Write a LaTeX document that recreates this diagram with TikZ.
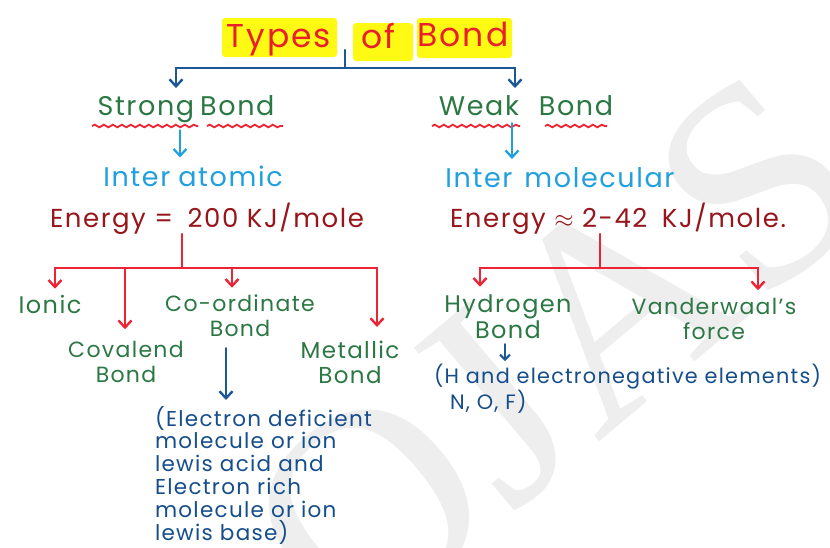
\documentclass[tikz,border=0pt]{standalone}
\usepackage{fontspec}
\setmainfont{Poppins}[LetterSpace=6]
\newfontfamily\markfont{Liberation Serif}
\usetikzlibrary{arrows.meta,decorations.pathmorphing}

\definecolor{titlered}{RGB}{232,32,44}
\definecolor{hlyellow}{RGB}{255,250,20}
\definecolor{hgreen}{RGB}{44,120,68}
\definecolor{cyanblue}{RGB}{32,160,222}
\definecolor{darkred}{RGB}{150,22,28}
\definecolor{linered}{RGB}{236,36,52}
\definecolor{inkblue}{RGB}{28,88,150}
\definecolor{noteblue}{RGB}{22,78,140}
\definecolor{markgray}{RGB}{238,238,238}

\tikzset{
  txt/.style={inner sep=0pt, outer sep=0pt},
  titletext/.style={txt, text=titlered, font=\fontsize{33}{36}\selectfont},
  headtext/.style={txt, text=hgreen, font=\fontsize{27}{30}\selectfont},
  kindtext/.style={txt, text=cyanblue, font=\fontsize{27}{30}\selectfont},
  energytext/.style={txt, text=darkred, font=\fontsize{26}{30}\selectfont},
  itemtext/.style={txt, text=hgreen, font=\fontsize{22}{24.5}\selectfont, align=center},
  notetext/.style={txt, text=noteblue, font=\fontsize{21.5}{22.8}\selectfont, align=left},
  barb/.style={-{Straight Barb[length=7pt,width=13pt]}},
  smallbarb/.style={-{Straight Barb[length=5pt,width=10pt]}},
  bluelink/.style={draw=inkblue, line width=2.4pt, line cap=round},
  redlink/.style={draw=linered, line width=2.4pt, line cap=round},
  cyanlink/.style={draw=cyanblue, line width=2.2pt, line cap=round},
  wavy/.style={draw=linered, line width=1.8pt, decorate,
    decoration={snake, segment length=9pt, amplitude=1.3pt}},
  highlight/.style={fill=hlyellow, rounded corners=3pt},
}

\begin{document}
\begin{tikzpicture}[x=1pt, y=-1pt]
\useasboundingbox (0,0) rectangle (830,547);
\fill[white] (0,0) rectangle (830,547);

% faint background lettering
\node[txt, text=markgray, rotate=40, font=\markfont\fontsize{290}{290}\selectfont]
  (mark) at (555,355) {OJAS};

% title with marker highlight
\fill[highlight] (222,18) rectangle (337,57);
\fill[highlight] (353,23) rectangle (413,61);
\fill[highlight] (417,18) rectangle (512,58);
\node[titletext, anchor=base] (types) at (279,47) {Types};
\node[titletext, anchor=base] (of)    at (378,48) {of};
\node[titletext, anchor=base] (bond)  at (463,46) {Bond};
\coordinate (tj) at (345,50);
\coordinate (tk) at (345,68);

% strong / weak
\node[headtext, anchor=base] (strong) at (186,115) {Strong\hspace{6pt}Bond};
\node[headtext, anchor=base] (weak)   at (526,115) {Weak\hspace{20pt}Bond};
\draw[wavy] (92,126) -- (198,126);
\draw[wavy] (207,126) -- (283,126);
\draw[wavy] (432,126) -- (520,126);
\draw[wavy] (545,126) -- (607,126);

\draw[bluelink] (tj) -- (tk);
\draw[bluelink, barb, shorten >=7pt] (tk) -| ([xshift=-10pt]strong.north);
\draw[bluelink, barb, shorten >=7pt] (tk) -| ([xshift=-11pt]weak.north);

% inter atomic / inter molecular
\node[kindtext, anchor=base] (interA) at (193,186) {Inter\hspace{8pt}atomic};
\node[kindtext, anchor=base] (interM) at (560,187) {Inter\hspace{12pt}molecular};
\draw[cyanlink, barb, shorten <=8pt, shorten >=8pt]
  ([xshift=-6pt]strong.south) -- ([xshift=-6pt]strong.south |- interA.north);
\draw[cyanlink, barb, shorten <=8pt, shorten >=8pt]
  ([xshift=-14pt]weak.south) -- ([xshift=-14pt]weak.south |- interM.north);

% energies
\node[energytext, anchor=base] (energyA) at (207,227) {Energy = \hspace{6pt}200 KJ/mole};
\node[energytext, anchor=base] (energyM) at (618,227) {Energy $\approx$ 2-42 \hspace{6pt}KJ/mole.};

% strong bond kinds (base anchor sits on the last line)
\coordinate (ja) at (182,268);
\node[itemtext, anchor=base, font=\fontsize{24}{26}\selectfont] (ionic) at (50,313) {Ionic};
\node[itemtext, anchor=base] (covalent) at (126,382) {Covalend\\Bond};
\node[itemtext, anchor=base] (coord)    at (240,336) {Co-ordinate\\Bond};
\node[itemtext, anchor=base, font=\fontsize{23}{24.5}\selectfont] (metallic) at (350,383) {Metallic\\Bond};
\draw[redlink] (energyA.south -| ja) -- (ja);
\draw[redlink, barb, shorten >=6pt] (ja) -| ([xshift=5pt]ionic.north);
\draw[redlink, barb, shorten >=12pt] (ja) -| ([xshift=-1pt]covalent.north);
\draw[redlink, barb, shorten >=7pt] (ja) -| ([xshift=-8pt]coord.north);
\draw[redlink, barb, shorten >=14pt] (ja) -| ([xshift=27pt]metallic.north);

% co-ordinate bond note
\node[notetext, anchor=north west] (lewis) at (155,406)
  {(Electron deficient\\molecule or ion\\lewis acid and\\Electron rich\\molecule or ion\\lewis base)};
\draw[bluelink, barb, shorten <=12pt, shorten >=6pt]
  ([xshift=-14pt]coord.south) -- ([xshift=-14pt]coord.south |- lewis.north);

% weak bond kinds
\coordinate (jm) at (600,268);
\node[itemtext, anchor=base, font=\fontsize{24}{25.5}\selectfont] (hydrogen) at (508,338) {Hydrogen\\Bond};
\node[itemtext, anchor=base] (vdw)      at (714,339) {Vanderwaal's\\force};
\draw[redlink] (energyM.south -| jm) -- (jm);
\draw[redlink, barb, shorten >=8pt] (jm) -| ([xshift=-28pt]hydrogen.north);
\draw[redlink, barb, shorten >=8pt] (jm) -| ([xshift=44pt]vdw.north);

% hydrogen bond note
\node[notetext, anchor=north west, font=\fontsize{20.8}{22.8}\selectfont] (hnote) at (434,364)
  {(H and electronegative elements)\\\hspace*{16pt}N, O, F)};
\draw[bluelink, smallbarb, line width=2pt, shorten <=6pt, shorten >=3pt]
  ([xshift=-3pt]hydrogen.south) -- ([xshift=-3pt]hydrogen.south |- hnote.north);
\end{tikzpicture}
\end{document}
